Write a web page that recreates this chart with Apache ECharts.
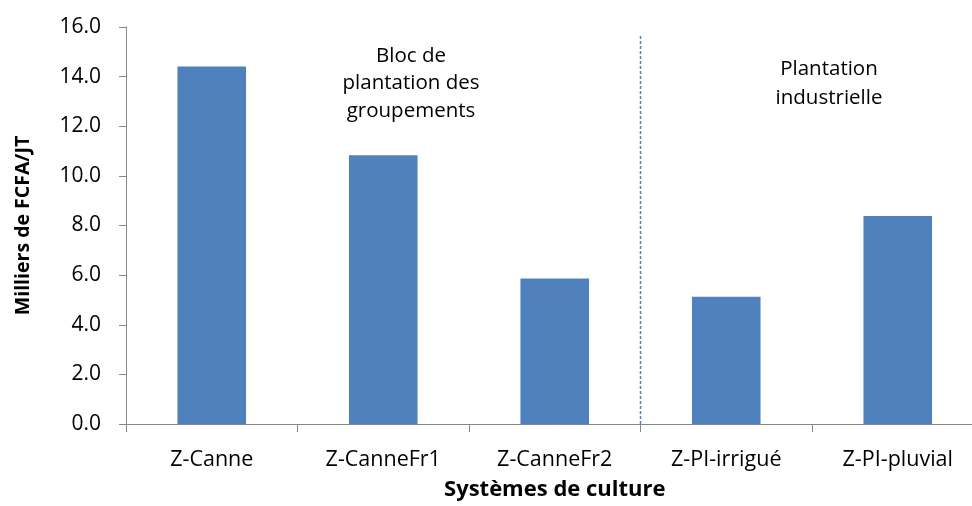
<!DOCTYPE html>
<html><head><meta charset="utf-8">
<script src="https://cdn.jsdelivr.net/npm/echarts@6/dist/echarts.min.js"></script>
<style>html,body{margin:0;padding:0;background:#fff;overflow:hidden;width:972px;height:506px}#c{width:990px;height:506px}</style>
</head><body><div id="c"></div>
<script>
const categories = ['Z-Canne','Z-CanneFr1','Z-CanneFr2','Z-PI-irrigué','Z-PI-pluvial'];
const values = [14.41, 10.83, 5.86, 5.13, 8.38];
const yTicks = [0,2,4,6,8,10,12,14,16];
const dividerAt = 3;           // boundary between groups (category index)
const dividerTop = 15.7;
const groupLabels = ['Bloc de\nplantation des\ngroupements', 'Plantation\nindustrielle'];

(function(){
const FONT = 'Open Sans';
const chart = echarts.init(document.getElementById('c'));
const gLeft = 126, gTop = 27, gW = 857.5, gH = 402;
chart.setOption({
  animation:false,
  textStyle:{fontFamily:FONT},
  grid:{left:gLeft, top:gTop, width:gW, height:gH, containLabel:false},
  xAxis:[{
    type:'category', data:categories,
    name:'Systèmes de culture', nameLocation:'middle', nameGap:55,
    nameTextStyle:{fontFamily:FONT, fontSize:22, fontWeight:'bold', color:'#000'},
    axisLine:{lineStyle:{color:'#868686', width:1}},
    axisTick:{show:true, length:8, alignWithLabel:false, lineStyle:{color:'#868686'}},
    axisLabel:{fontFamily:FONT, fontSize:21.5, color:'#000', margin:25}
  },{
    type:'value', min:0, max:categories.length, show:false
  }],
  yAxis:{
    type:'value', min:yTicks[0], max:yTicks[yTicks.length-1], interval:yTicks[1]-yTicks[0],
    name:'Milliers de FCFA/JT', nameLocation:'middle', nameGap:93, nameRotate:90,
    nameTextStyle:{fontFamily:FONT, fontSize:19.5, fontWeight:'bold', color:'#000'},
    axisLine:{show:true, lineStyle:{color:'#868686', width:1}},
    axisTick:{show:true, length:7, inside:false, lineStyle:{color:'#868686'}},
    splitLine:{show:false},
    axisLabel:{fontFamily:FONT, fontSize:21, color:'#000', margin:25, formatter:v=>v.toFixed(1)}
  },
  series:[{
    type:'bar', data:values, barWidth:'40%', xAxisIndex:0,
    itemStyle:{color:'#4F81BD'}
  },{
    type:'line', xAxisIndex:1, data:[[dividerAt,0],[dividerAt,dividerTop]],
    symbol:'none', lineStyle:{color:'#4F81BD', width:1.5, type:[3,2]}, silent:true
  }],
  graphic:[
    {type:'text', x:411, y:42, style:{text:groupLabels[0], font:'20.5px "Open Sans"', fill:'#000', align:'center', verticalAlign:'top', lineHeight:27.5}},
    {type:'text', x:829, y:55, style:{text:groupLabels[1], font:'20.5px "Open Sans"', fill:'#000', align:'center', verticalAlign:'top', lineHeight:28.5}}
  ]
});
})();
</script></body></html>
